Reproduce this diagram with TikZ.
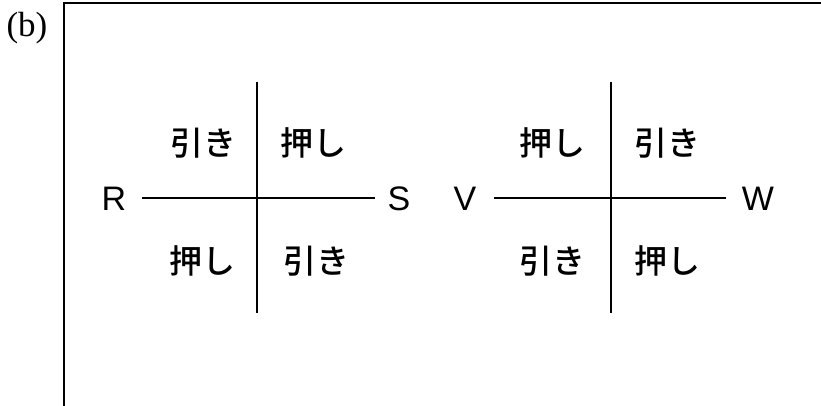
\documentclass[tikz,border=0pt]{standalone}
\usepackage{fontspec}
\setmainfont{Liberation Serif}
\newfontfamily\latinsans{Liberation Sans}
\newfontfamily\cjk{Noto Sans CJK JP}[UprightFont={* Medium}]
\begin{document}
\begin{tikzpicture}[x=1pt,y=-1pt,
  jp/.style={font=\cjk\fontsize{33}{33}\selectfont, inner sep=0pt, anchor=center},
  lt/.style={font=\latinsans\fontsize{34}{34}\selectfont, inner sep=0pt, anchor=center},
  axis/.style={line width=1.5pt, black},
  frame/.style={line width=2pt, black}]
\useasboundingbox (0,0) rectangle (821,406);
\fill[white] (0,0) rectangle (821,406);
% frame (right and bottom outside the picture)
\draw[frame] (64,420) -- (64,3) -- (840,3);
\node[font=\fontsize{35}{35}\selectfont, inner sep=0pt] (lab) at (27,28) {(b)};
% left cross
\node[lt] (R) at (114,199) {R};
\node[lt] (S) at (399,199) {S};
\coordinate (h1a) at (142,198);
\coordinate (h1b) at (375,198);
\coordinate (v1a) at (257,82);
\coordinate (v1b) at (257,313);
\draw[axis] (h1a) -- (h1b);
\draw[axis] (v1a) -- (v1b);
\node[jp] (a1) at (203,143) {引き};
\node[jp] (a2) at (313,143) {押し};
\node[jp] (a3) at (202,261) {押し};
\node[jp] (a4) at (316,261) {引き};
% right cross
\node[lt] (V) at (465,199) {V};
\node[lt] (W) at (758,199) {W};
\coordinate (h2a) at (494,198);
\coordinate (h2b) at (726,198);
\coordinate (v2a) at (611,82);
\coordinate (v2b) at (611,313);
\draw[axis] (h2a) -- (h2b);
\draw[axis] (v2a) -- (v2b);
\node[jp] (b1) at (552,143) {押し};
\node[jp] (b2) at (667,143) {引き};
\node[jp] (b3) at (552,261) {引き};
\node[jp] (b4) at (667,261) {押し};
\end{tikzpicture}
\end{document}
